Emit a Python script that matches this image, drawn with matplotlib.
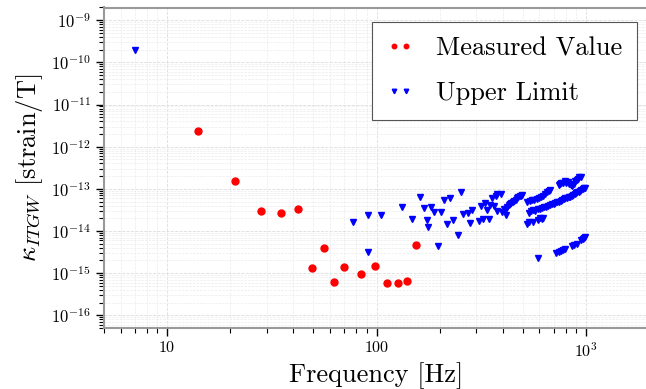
import numpy as np
import matplotlib
matplotlib.use("Agg")
import matplotlib.pyplot as plt
from matplotlib.ticker import LogLocator, NullFormatter

plt.rcParams['mathtext.fontset'] = 'cm'
plt.rcParams['font.family'] = 'serif'
plt.rcParams['font.serif'] = ['cmr10', 'DejaVu Serif']
plt.rcParams['axes.formatter.use_mathtext'] = True
plt.rcParams['axes.unicode_minus'] = False

# measured values (harmonics of 7 Hz)
meas_freq = [14, 21, 28, 35, 42, 49, 56, 63, 70, 84, 98, 112, 126, 140, 154]
meas_kappa = [2.4e-12, 1.55e-13, 3.0e-14, 2.7e-14, 3.3e-14, 1.3e-15, 3.9e-15, 6.1e-16,
              1.4e-15, 9.8e-16, 1.45e-15, 5.8e-16, 5.8e-16, 6.6e-16, 4.7e-15]

# upper limits
ul_freq = [7, 77, 91, 91, 105, 133, 147, 161, 168, 175, 176, 182, 189, 196, 203,
           210, 217, 224, 231, 245, 252, 259, 273, 280, 287, 308, 315, 322, 329,
           336, 343, 350, 357, 364, 371, 378, 378, 392, 399, 406, 413,
           # band 413-497
           413, 420, 427, 434, 441, 448, 455, 462, 469, 476, 483, 490, 497,
           # upper band
           525, 539, 553, 567, 581, 595, 609, 623, 637, 651, 665, 672,
           # cluster near 1e-13
           742, 749, 763, 777, 791, 805, 819, 833, 847, 861, 875, 889, 903, 917, 931, 945,
           # middle band
           532, 546, 560, 574, 588, 602, 616, 630, 644, 658, 672, 686, 700, 714, 728,
           742, 756, 770, 784, 798, 812, 826, 840, 854, 868, 882, 896, 910, 924,
           938, 952, 966, 980, 994,
           # lower group
           525, 532, 560, 588, 602, 616, 623,
           # bottom group
           588, 721, 742, 756, 777, 798, 854, 875, 903, 952, 966, 980, 994]
ul_kappa = [1.95e-10, 1.6e-14, 2.4e-14, 3.2e-15, 2.4e-14, 3.7e-14, 1.95e-14, 6.3e-14,
            3.5e-14, 1.85e-14, 1.26e-14, 3.7e-14, 2.75e-14, 4.5e-15, 2.8e-14,
            5.3e-14, 1.45e-14, 6.2e-14, 1.85e-14, 8.1e-15, 8.2e-14, 2.55e-14, 2.7e-14,
            1.55e-14, 3.15e-14, 1.75e-14, 3.9e-14, 1.95e-14, 4.7e-14,
            3.1e-14, 1.95e-14, 4.2e-14, 6.0e-14, 4.0e-14, 6.6e-14, 7.4e-14, 3.0e-14,
            7.7e-14, 2.85e-14, 3.4e-14, 2.35e-14,
            3.4e-14, 3.7e-14, 4.1e-14, 4.3e-14, 4.6e-14, 4.9e-14, 5.2e-14, 5.5e-14,
            5.9e-14, 6.3e-14, 6.6e-14, 6.9e-14, 7.2e-14,
            5.0e-14, 5.1e-14, 5.3e-14, 5.5e-14, 5.7e-14, 6.0e-14, 6.3e-14, 6.8e-14,
            7.4e-14, 8.2e-14, 9.0e-14, 9.6e-14,
            1.25e-13, 1.3e-13, 1.35e-13, 1.4e-13, 1.5e-13, 1.35e-13, 1.45e-13, 1.3e-13,
            1.24e-13, 1.15e-13, 1.3e-13, 1.5e-13, 1.6e-13, 1.75e-13, 1.86e-13, 1.86e-13,
            2.7e-14, 3.0e-14, 3.2e-14, 2.9e-14, 3.3e-14, 3.4e-14, 3.5e-14, 3.7e-14,
            3.8e-14, 4.0e-14, 4.2e-14, 4.3e-14, 4.4e-14, 4.6e-14, 4.8e-14,
            5.0e-14, 5.2e-14, 5.4e-14, 5.6e-14, 5.9e-14, 6.1e-14, 6.3e-14, 6.5e-14,
            6.8e-14, 7.1e-14, 7.4e-14, 7.8e-14, 8.2e-14, 8.6e-14,
            8.9e-14, 9.3e-14, 9.7e-14, 1.02e-13, 1.07e-13,
            1.45e-14, 1.6e-14, 1.65e-14, 1.8e-14, 2.0e-14, 1.95e-14, 2.0e-14,
            2.3e-15, 3.0e-15, 3.2e-15, 3.4e-15, 3.6e-15, 3.8e-15, 4.4e-15, 4.7e-15,
            4.9e-15, 6.0e-15, 6.5e-15, 6.9e-15, 7.3e-15]

fig = plt.figure(figsize=(6.46, 3.89), dpi=100)
ax = fig.add_axes([104 / 646, 61 / 389, 545 / 646, 320.5 / 389])

ax.plot(meas_freq, meas_kappa, 'o', color='red', markersize=5, label='Measured Value', zorder=3)
ax.plot(ul_freq, ul_kappa, 'v', color='blue', markersize=5, label='Upper Limit', zorder=3)

ax.set_xscale('log')
ax.set_yscale('log')
ax.set_xlim(5, 2000)
ax.set_ylim(5e-17, 2e-9)

ax.set_xticks([10, 100, 1000])
ax.set_xticklabels(['10', '100', r'$10^3$'])
ax.xaxis.set_minor_locator(LogLocator(base=10, subs=np.arange(2, 10)))
ax.xaxis.set_minor_formatter(NullFormatter())
ax.yaxis.set_major_locator(LogLocator(base=10, numticks=20))
ax.yaxis.set_minor_locator(LogLocator(base=10, subs=np.arange(2, 10), numticks=20))
ax.yaxis.set_minor_formatter(NullFormatter())

ax.tick_params(which='major', length=6, width=1.0, color='black', labelsize=12, direction='out')
ax.tick_params(axis='x', which='major', labelsize=11.5)
ax.tick_params(which='minor', length=3.5, width=0.8, color='black', direction='out')

for s in ax.spines.values():
    s.set_color('#999999')
    s.set_linewidth(1.5)

ax.grid(True, which='major', color='#dddddd', linestyle='--', linewidth=0.6)
ax.grid(True, which='minor', color='#ebebeb', linestyle='--', linewidth=0.5)
ax.set_axisbelow(True)

ax.set_xlabel('Frequency [Hz]', fontsize=19, labelpad=2)
ax.set_ylabel(r'$\kappa_{ITGW}$ [strain/T]', fontsize=19, labelpad=4)

leg = ax.legend(loc='upper right', bbox_to_anchor=(533 / 545, 1 - 14.5 / 320.5), borderaxespad=0,
                fontsize=19, numpoints=2, markerscale=0.65, handlelength=1.05,
                handletextpad=0.85, fancybox=False, framealpha=1.0, edgecolor='#555555',
                borderpad=0.55, labelspacing=0.8)
leg.get_frame().set_linewidth(0.8)

fig.savefig('out.png', dpi=100)
